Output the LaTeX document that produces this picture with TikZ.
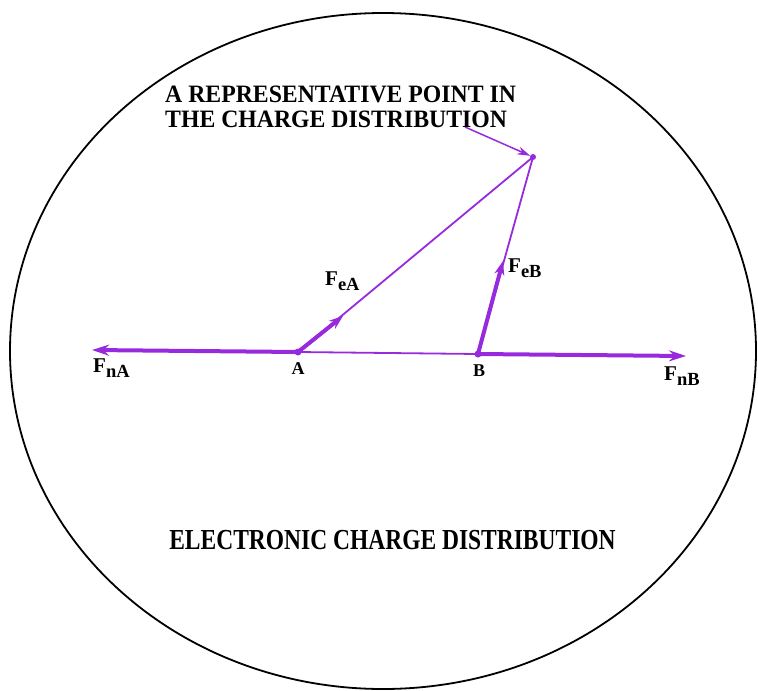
\documentclass[tikz,border=0pt]{standalone}
\usepackage{fontspec}
\setmainfont{Liberation Serif}
\usetikzlibrary{arrows.meta}
\definecolor{vio}{RGB}{152,42,222}
\newcommand\Fsub[1]{F\raisebox{-5.5pt}{\fontsize{18.5}{18.5}\selectfont #1}}
\begin{document}
\begin{tikzpicture}[x=1pt,y=-1pt,
  vecthick/.style={draw=vio, line width=4pt, -{Stealth[length=17pt,width=11pt]}},
  vecmid/.style={draw=vio, line width=4pt, -{Stealth[length=14pt,width=10pt]}},
  vecthin/.style={draw=vio, line width=1.8pt},
  ptrline/.style={draw=vio, line width=1.5pt, -{Stealth[length=13pt,width=8pt]}, shorten >=3pt},
  lbl/.style={font=\bfseries\fontsize{21}{22}\selectfont, inner sep=0pt, anchor=base west},
  ptlbl/.style={font=\bfseries\fontsize{18}{19}\selectfont, inner sep=0pt, anchor=base},
  toplbl/.style={font=\bfseries\fontsize{25}{25}\selectfont, inner sep=0pt, anchor=base west},
  dotmark/.style={circle, fill=vio, inner sep=0pt, minimum size=7pt}]

\useasboundingbox (0,0) rectangle (758,691);
\fill[white] (0,0) rectangle (758,691);
\draw[line width=1.8pt] (383,351) ellipse [x radius=373, y radius=338];

\coordinate (A) at (298,352);
\coordinate (B) at (478,354);
\coordinate (P) at (533,157);
\coordinate (nA) at (92,350);
\coordinate (nB) at (686,356);
\coordinate (eA) at (343,316);
\coordinate (eB) at (503,261);
\coordinate (ptr) at (465,127);

\draw[vecthin] (A) -- (B);
\draw[vecthin] (A) -- (P);
\draw[vecthin] (B) -- (P);
\draw[vecthick] (A) -- (nA);
\draw[vecthick] (B) -- (nB);
\draw[vecmid] (A) -- (eA);
\draw[vecmid] (B) -- (eB);
\draw[ptrline] (ptr) -- (P);

\node[dotmark] (dA) at (A) {};
\node[dotmark] (dB) at (B) {};
\node[dotmark, minimum size=6pt] (dP) at (P) {};

\node[toplbl] (t1) at (165,102) {\scalebox{0.95}[1]{A REPRESENTATIVE POINT IN}};
\node[toplbl] (t2) at (165,127) {\scalebox{0.95}[1]{THE CHARGE DISTRIBUTION}};

\node[lbl] (lFeA) at (325,285) {\Fsub{eA}};
\node[lbl] (lFeB) at (508,272) {\Fsub{eB}};
\node[lbl] (lFnA) at (93,372) {\Fsub{nA}};
\node[lbl] (lFnB) at (664,380) {\Fsub{nB}};
\node[ptlbl] (lA) at (298,374) {A};
\node[ptlbl] (lB) at (479,376) {B};

\node[font=\bfseries\fontsize{29}{29}\selectfont, inner sep=0pt, anchor=base] (bottom) at (392.5,549)
  {\scalebox{0.81}[1]{ELECTRONIC CHARGE DISTRIBUTION}};
\end{tikzpicture}
\end{document}
